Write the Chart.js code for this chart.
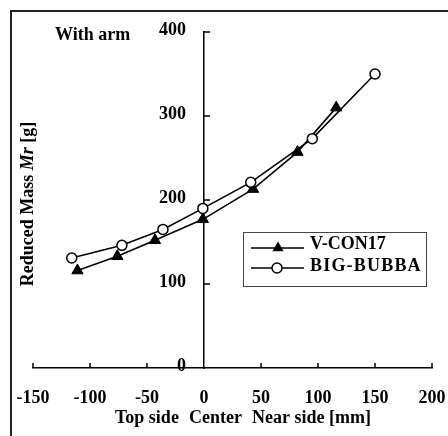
<!DOCTYPE html>
<html><head><meta charset="utf-8">
<script src="https://cdn.jsdelivr.net/npm/chart.js@4/dist/chart.umd.min.js"></script>
<style>html,body{margin:0;padding:0;background:#fff;} canvas{display:block}</style>
</head><body>
<canvas id="c" width="448" height="436"></canvas>
<script>
const seriesNames = ['V-CON17', 'BIG-BUBBA'];
const vconX = [-111, -76, -43, -1, 43, 82, 116];
const vconY = [116, 133, 152, 177, 213, 257, 310];
const bubbaX = [-116, -72, -36, -1, 41, 95, 150];
const bubbaY = [131, 146, 165, 190, 221, 273, 350];
const xTicks = [-150, -100, -50, 0, 50, 100, 150, 200];
const yTicks = [0, 100, 200, 300, 400];
const panelLabel = 'With arm';
const xTitleParts = ['Top side', 'Center', 'Near side [mm]'];
const yTitleParts = ['Reduced Mass ', 'Mr', ' [g]'];

const FONT = '"Liberation Serif","Times New Roman",serif';
const toPts = (xs, ys) => xs.map((v, i) => ({x: v, y: ys[i]}));

function drawTri(ctx, cx, cy, r) {
  ctx.beginPath();
  ctx.moveTo(cx, cy - r);
  ctx.lineTo(cx + Math.sin(2*Math.PI/3)*r, cy + 0.5*r);
  ctx.lineTo(cx - Math.sin(2*Math.PI/3)*r, cy + 0.5*r);
  ctx.closePath();
  ctx.fill();
}

const deco = {
  id: 'deco',
  afterLayout(chart) {
    const ys = chart.scales.y;
    if (!ys._patched) {
      const orig = ys.drawLabels;
      ys.drawLabels = function (area) {
        const c = this.ctx;
        c.save();
        c.translate(-18, 0);
        orig.call(this, area);
        c.restore();
      };
      ys._patched = true;
    }
  },
  beforeDraw(chart) {
    const ctx = chart.ctx;
    ctx.save();
    ctx.fillStyle = '#fff';
    ctx.fillRect(0, 0, chart.width, chart.height);
    ctx.strokeStyle = '#222';
    ctx.lineWidth = 2;
    ctx.beginPath();
    ctx.moveTo(11, 436); ctx.lineTo(11, 11); ctx.lineTo(448, 11);
    ctx.stroke();
    ctx.restore();
  },
  afterDraw(chart) {
    const ctx = chart.ctx;
    const xs = chart.scales.x, ys = chart.scales.y;
    const x0 = xs.getPixelForValue(0), y0 = ys.getPixelForValue(0);
    ctx.save();
    ctx.strokeStyle = '#000';
    ctx.lineWidth = 1.5;
    ctx.beginPath();
    xTicks.forEach(v => { if (v === 0) return; const p = xs.getPixelForValue(v); ctx.moveTo(p, y0); ctx.lineTo(p, y0 - 5); });
    yTicks.forEach(v => { if (v === 0) return; const p = ys.getPixelForValue(v); ctx.moveTo(x0, p); ctx.lineTo(x0 + 6, p); });
    ctx.stroke();

    ctx.fillStyle = '#000';
    ctx.textBaseline = 'alphabetic';
    ctx.textAlign = 'left';
    ctx.font = 'bold 18px ' + FONT;
    ctx.fillText(panelLabel, 55, 40);

    ctx.fillText(xTitleParts[0], 115, 423);
    ctx.fillText(xTitleParts[1], 189, 423);
    ctx.fillText(xTitleParts[2], 252, 423);

    const fonts = ['bold 18px ' + FONT, 'italic bold 18px ' + FONT, 'bold 18px ' + FONT];
    let total = 0;
    const widths = yTitleParts.map((t, i) => { ctx.font = fonts[i]; const w = ctx.measureText(t).width; total += w; return w; });
    ctx.save();
    ctx.translate(33, 204);
    ctx.rotate(-Math.PI/2);
    let cx = -total/2;
    yTitleParts.forEach((t, i) => { ctx.font = fonts[i]; ctx.fillText(t, cx, 0); cx += widths[i]; });
    ctx.restore();

    ctx.strokeStyle = '#444';
    ctx.lineWidth = 1;
    ctx.strokeRect(243.5, 232.5, 183, 54);
    const rows = [248, 268];
    ctx.strokeStyle = '#000';
    ctx.lineWidth = 1.5;
    rows.forEach(ry => { ctx.beginPath(); ctx.moveTo(251, ry); ctx.lineTo(304, ry); ctx.stroke(); });
    ctx.fillStyle = '#000';
    drawTri(ctx, 278, rows[0], 6.5);
    ctx.beginPath(); ctx.arc(277, rows[1], 5, 0, Math.PI*2);
    ctx.fillStyle = '#fff'; ctx.fill(); ctx.stroke();
    ctx.fillStyle = '#000';
    ctx.font = 'bold 18px ' + FONT;
    ctx.fillText(seriesNames[0], 310, 249);
    try { ctx.letterSpacing = '1.2px'; } catch (e) {}
    ctx.fillText(seriesNames[1], 310, 271);
    ctx.restore();
  }
};

new Chart(document.getElementById('c'), {
  type: 'scatter',
  data: {
    datasets: [
      {
        label: seriesNames[0],
        data: toPts(vconX, vconY),
        showLine: true,
        borderColor: '#000',
        borderWidth: 1.6,
        backgroundColor: '#000',
        pointStyle: 'triangle',
        pointRadius: 6.5,
        pointBorderWidth: 1,
        pointBackgroundColor: '#000',
        pointBorderColor: '#000',
        order: 2,
        clip: false
      },
      {
        label: seriesNames[1],
        data: toPts(bubbaX, bubbaY),
        showLine: true,
        borderColor: '#000',
        borderWidth: 1.6,
        backgroundColor: '#fff',
        pointStyle: 'circle',
        pointRadius: 5,
        pointBorderWidth: 1.5,
        pointBackgroundColor: '#fff',
        pointBorderColor: '#000',
        order: 1,
        clip: false
      }
    ]
  },
  options: {
    responsive: false,
    animation: false,
    devicePixelRatio: 1,
    layout: { padding: { left: 33, right: 16, top: 32, bottom: 0 } },
    plugins: { legend: { display: false }, tooltip: { enabled: false } },
    scales: {
      x: {
        type: 'linear',
        position: 'bottom',
        min: -150, max: 200,
        afterBuildTicks: s => { s.ticks = xTicks.map(v => ({value: v})); },
        afterFit: s => { s.height = 68; s.paddingLeft = 0; s.paddingRight = 0; },
        grid: { display: false, drawTicks: false },
        border: { display: true, color: '#000', width: 1.5 },
        ticks: { color: '#000', padding: 20, font: { family: FONT, size: 18, weight: 'bold' } }
      },
      y: {
        type: 'linear',
        position: { x: 0 },
        min: 0, max: 400,
        afterBuildTicks: s => { s.ticks = yTicks.map(v => ({value: v})); },
        afterFit: s => { s.width = 0; s.paddingTop = 0; s.paddingBottom = 0; },
        grid: { display: false, drawTicks: false },
        border: { display: true, color: '#000', width: 1.5 },
        ticks: { color: '#000', padding: 0, labelOffset: -2, font: { family: FONT, size: 18, weight: 'bold' } }
      }
    }
  },
  plugins: [deco]
});
</script>
</body></html>
